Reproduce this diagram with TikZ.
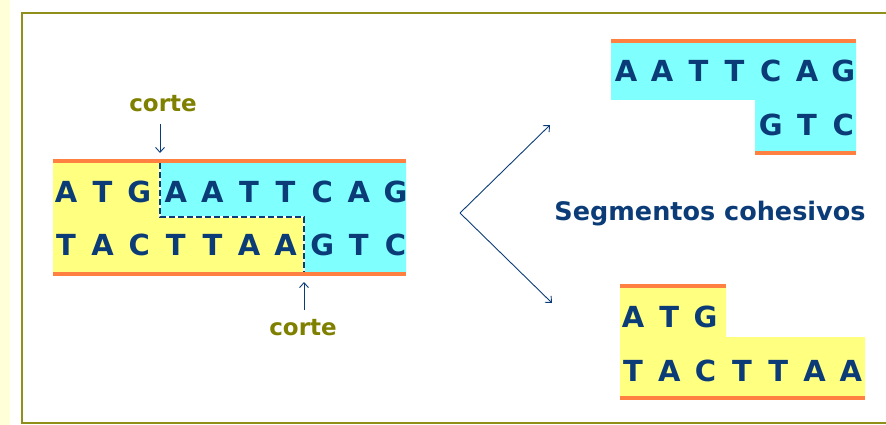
\documentclass[tikz,border=0pt]{standalone}
\usepackage{fontspec}
\setmainfont{DejaVu Sans}
\usepackage{tikz}
\usetikzlibrary{arrows.meta}
\definecolor{navy}{HTML}{0B3C78}
\definecolor{olive}{HTML}{808000}
\definecolor{framecol}{HTML}{8F8F1A}
\definecolor{strandor}{HTML}{FF8040}
\definecolor{baseyel}{HTML}{FFFF80}
\definecolor{basecyan}{HTML}{80FFFF}
\definecolor{paleyel}{HTML}{FFFFD8}

\tikzset{
	base/.style={text=navy,font=\bfseries\fontsize{29}{29}\selectfont,inner sep=0pt,anchor=center},
	cutlabel/.style={text=olive,font=\bfseries\fontsize{23}{23}\selectfont,inner sep=0pt},
	strand/.style={strandor,line width=3.5pt},
	cutline/.style={navy,line width=1.3pt,dash pattern=on 6pt off 3pt},
	pointer/.style={navy,line width=0.9pt,-{Straight Barb[length=5pt,width=9pt]}}
}

\begin{document}
\begin{tikzpicture}[x=1pt,y=-1pt]
	\useasboundingbox (0,0) rectangle (886,425);
	\fill[paleyel] (0,0) rectangle (10,425);
	\draw[framecol,line width=2pt] (22,13.5) rectangle (900,423);

	% double strand before the cut
	\fill[baseyel] (53,161) rectangle (406,274);
	\fill[basecyan] (160,161) -- (406,161) -- (406,274) -- (304,274) -- (304,217) -- (160,217) -- cycle;
	\draw[strand] (53,161) -- (406,161);
	\draw[strand] (53,274) -- (406,274);
	\draw[white,line width=1.3pt] (160,163) -- (160,217) -- (304,217) -- (304,272);
	\draw[cutline] (160,163) -- (160,217) -- (304,217) -- (304,272);
	\foreach \b [count=\i from 0] in {A,T,G,A,A,T,T,C,A,G}
		\node[base] (up\i) at (66+36.6*\i,192) {\b};
	\foreach \b [count=\i from 0] in {T,A,C,T,T,A,A,G,T,C}
		\node[base] (lo\i) at (66+36.6*\i,245) {\b};

	\node[cutlabel] (cut1) at (163,104) {corte};
	\node[cutlabel] (cut2) at (303,328) {corte};
	\coordinate (cut1tip) at (160,153);
	\coordinate (cut2tip) at (304,282);
	\draw[pointer] (160,124) -- (cut1tip);
	\draw[pointer] (304,310) -- (cut2tip);

	% the two fragments
	\coordinate (apex) at (460,213);
	\coordinate (toup) at (550,125);
	\coordinate (todown) at (552,303);
	\draw[pointer] (apex) -- (toup);
	\draw[pointer] (apex) -- (todown);
	\node[text=navy,font=\bfseries\fontsize{25.5}{25.5}\selectfont,inner sep=0pt] (coh) at (710,214) {Segmentos cohesivos};

	\fill[basecyan] (611,41) -- (856,41) -- (856,153) -- (755,153) -- (755,100) -- (611,100) -- cycle;
	\draw[strand] (611,41) -- (856,41);
	\draw[strand] (755,153) -- (856,153);
	\foreach \b [count=\i from 0] in {A,A,T,T,C,A,G}
		\node[base] (fa\i) at (626+36.2*\i,71) {\b};
	\foreach \b [count=\i from 4] in {G,T,C}
		\node[base] (fb\i) at (626+36.2*\i,125) {\b};

	\fill[baseyel] (620,286) -- (726,286) -- (726,337) -- (865,337) -- (865,398) -- (620,398) -- cycle;
	\draw[strand] (620,286) -- (726,286);
	\draw[strand] (620,398) -- (865,398);
	\foreach \b [count=\i from 0] in {A,T,G}
		\node[base] (fc\i) at (633+36.3*\i,317) {\b};
	\foreach \b [count=\i from 0] in {T,A,C,T,T,A,A}
		\node[base] (fd\i) at (633+36.3*\i,371) {\b};
\end{tikzpicture}
\end{document}
